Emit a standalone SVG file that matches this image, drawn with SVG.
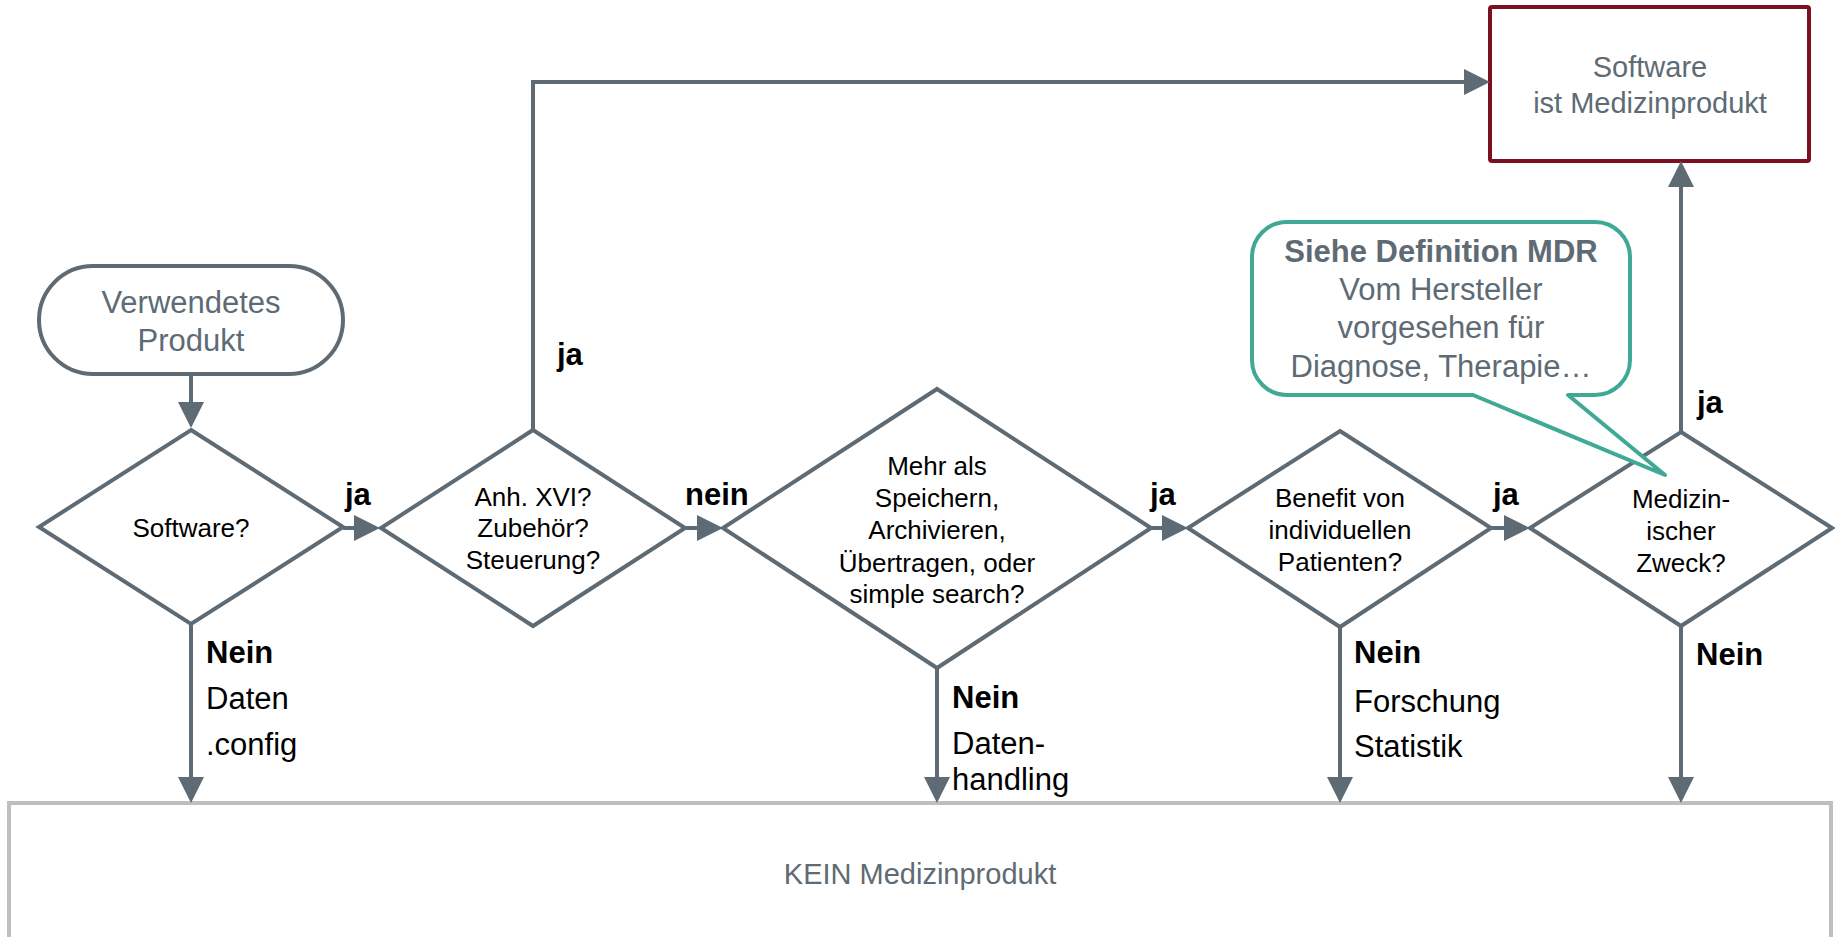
<svg xmlns="http://www.w3.org/2000/svg" width="1835" height="937" viewBox="0 0 1835 937">
<style>
.shape{fill:#fff;stroke:#5e6b74;stroke-width:4;stroke-linejoin:miter}
.conn{fill:none;stroke:#5e6b74;stroke-width:4}
.q{font-family:"Liberation Sans",Arial,sans-serif;font-size:26px;fill:#000;text-anchor:middle}
.g{font-family:"Liberation Sans",Arial,sans-serif;font-size:30px;fill:#5e6b74;text-anchor:middle}
.lb{font-family:"Liberation Sans",Arial,sans-serif;font-size:31px;font-weight:bold;fill:#000}
.lr{font-family:"Liberation Sans",Arial,sans-serif;font-size:31px;fill:#000}
</style>
<defs>
<marker id="arr" markerUnits="userSpaceOnUse" markerWidth="26" markerHeight="26" refX="22" refY="13" orient="auto">
<path d="M0,0 L26,13 L0,26 z" fill="#5e6b74"/>
</marker>
</defs>
<rect width="1835" height="937" fill="#fff"/>

<g id="kein">
<rect x="9" y="803" width="1822" height="170" fill="#fff" stroke="#bfbfbf" stroke-width="4"/>
<text class="g" x="920" y="884" style="font-size:29px">KEIN Medizinprodukt</text>
</g>

<g id="start">
<rect class="shape" x="39" y="266" width="304" height="108" rx="54" ry="54"/>
<text class="g" x="191" y="313" style="font-size:31px">Verwendetes</text>
<text class="g" x="191" y="351" style="font-size:31px">Produkt</text>
</g>

<g id="medizinprodukt">
<rect x="1490" y="7" width="319" height="154" rx="2" fill="#fff" stroke="#7b1020" stroke-width="4"/>
<text class="g" x="1650" y="77" style="font-size:29px">Software</text>
<text class="g" x="1650" y="113" style="font-size:29px">ist Medizinprodukt</text>
</g>

<g id="d1">
<polygon class="shape" points="191,430 343,527 191,624 39,527"/>
<text class="q" x="191" y="537">Software?</text>
</g>

<g id="d2">
<polygon class="shape" points="533,430 685,528 533,626 381,528"/>
<text class="q" x="533" y="506">Anh. XVI?</text>
<text class="q" x="533" y="537">Zubehör?</text>
<text class="q" x="533" y="569">Steuerung?</text>
</g>

<g id="d3">
<polygon class="shape" points="937,389 1151,528 937,668 723,528"/>
<text class="q" x="937" y="475">Mehr als</text>
<text class="q" x="937" y="507">Speichern,</text>
<text class="q" x="937" y="539">Archivieren,</text>
<text class="q" x="937" y="572">Übertragen, oder</text>
<text class="q" x="937" y="603">simple search?</text>
</g>

<g id="d4">
<polygon class="shape" points="1340,431 1491,528 1340,627 1188,528"/>
<text class="q" x="1340" y="507">Benefit von</text>
<text class="q" x="1340" y="539">individuellen</text>
<text class="q" x="1340" y="571">Patienten?</text>
</g>

<g id="d5">
<polygon class="shape" points="1681,432 1832,528 1681,626 1530,528"/>
<text class="q" x="1681" y="508">Medizin-</text>
<text class="q" x="1681" y="540">ischer</text>
<text class="q" x="1681" y="572">Zweck?</text>
</g>

<g id="connectors">
<path class="conn" d="M191,374 V424" marker-end="url(#arr)"/>
<path class="conn" d="M343,528 H376" marker-end="url(#arr)"/>
<path class="conn" d="M533,430 V82 H1486" marker-end="url(#arr)"/>
<path class="conn" d="M685,528 H719" marker-end="url(#arr)"/>
<path class="conn" d="M1151,528 H1184" marker-end="url(#arr)"/>
<path class="conn" d="M1491,528 H1526" marker-end="url(#arr)"/>
<path class="conn" d="M1681,432 V165" marker-end="url(#arr)"/>
<path class="conn" d="M191,624 V799" marker-end="url(#arr)"/>
<path class="conn" d="M937,668 V799" marker-end="url(#arr)"/>
<path class="conn" d="M1340,627 V799" marker-end="url(#arr)"/>
<path class="conn" d="M1681,626 V799" marker-end="url(#arr)"/>
</g>

<g id="labels">
<text class="lb" x="345" y="505">ja</text>
<text class="lb" x="685" y="505">nein</text>
<text class="lb" x="1150" y="505">ja</text>
<text class="lb" x="1493" y="505">ja</text>
<text class="lb" x="557" y="365">ja</text>
<text class="lb" x="1697" y="413">ja</text>
<text class="lb" x="206" y="663">Nein</text>
<text class="lr" x="206" y="709">Daten</text>
<text class="lr" x="206" y="755">.config</text>
<text class="lb" x="952" y="708">Nein</text>
<text class="lr" x="952" y="754">Daten-</text>
<text class="lr" x="952" y="790">handling</text>
<text class="lb" x="1354" y="663">Nein</text>
<text class="lr" x="1354" y="712">Forschung</text>
<text class="lr" x="1354" y="757">Statistik</text>
<text class="lb" x="1696" y="665">Nein</text>
</g>

<g id="callout">
<path d="M1287,222 H1595 A35,35 0 0 1 1630,257 V360 A35,35 0 0 1 1595,395 H1568 L1665,475 L1473,395 H1287 A35,35 0 0 1 1252,360 V257 A35,35 0 0 1 1287,222 Z" fill="#fff" stroke="#3fa996" stroke-width="4" stroke-linejoin="round"/>
<text class="g" x="1441" y="262" style="font-size:31px;font-weight:bold">Siehe Definition MDR</text>
<text class="g" x="1441" y="300" style="font-size:31px">Vom Hersteller</text>
<text class="g" x="1441" y="338" style="font-size:31px">vorgesehen für</text>
<text class="g" x="1441" y="377" style="font-size:31px">Diagnose, Therapie…</text>
</g>
</svg>
